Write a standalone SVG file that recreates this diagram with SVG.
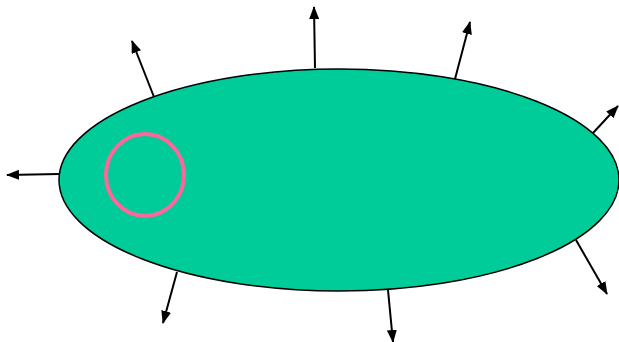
<svg xmlns="http://www.w3.org/2000/svg" width="619" height="342" viewBox="0 0 619 342">
<style>
.arr{stroke:#000;stroke-width:2;fill:none;marker-end:url(#ah)}
</style>
<defs>
<marker id="ah" viewBox="0 0 13 10" refX="12" refY="5" markerWidth="13" markerHeight="10" markerUnits="userSpaceOnUse" orient="auto">
<path d="M0,0 L13,5 L0,10 Z" fill="#000"/>
</marker>
</defs>
<g id="cell">
<ellipse cx="339" cy="180" rx="280" ry="111" fill="#00CC99" stroke="#000" stroke-width="1.5"/>
</g>
<g id="nucleus">
<ellipse cx="145" cy="175" rx="39" ry="41" fill="none" stroke="#FF6699" stroke-width="4"/>
</g>
<g id="connectors">
<line class="arr" x1="154" y1="97" x2="132" y2="41"/>
<line class="arr" x1="315" y1="68" x2="314" y2="7"/>
<line class="arr" x1="455" y1="79" x2="470" y2="22"/>
<line class="arr" x1="593" y1="133" x2="618" y2="106"/>
<line class="arr" x1="59" y1="174" x2="7" y2="175"/>
<line class="arr" x1="177" y1="272" x2="163" y2="323"/>
<line class="arr" x1="388" y1="290" x2="393" y2="342"/>
<line class="arr" x1="576" y1="240" x2="607" y2="294"/>
</g>
</svg>
